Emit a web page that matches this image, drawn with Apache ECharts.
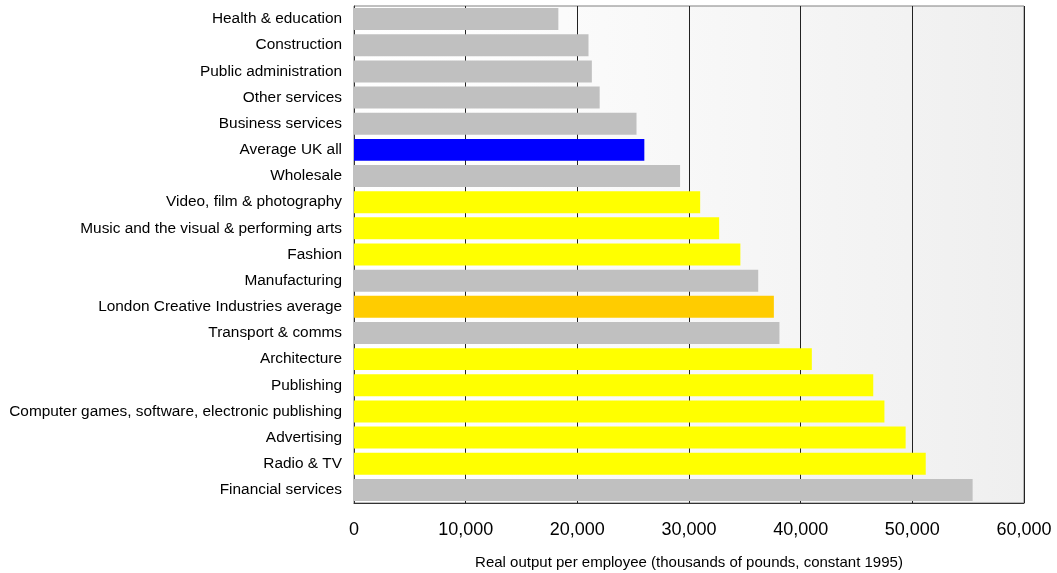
<!DOCTYPE html>
<html>
<head>
<meta charset="utf-8">
<title>Real output per employee by sector</title>
<script src="https://cdn.jsdelivr.net/npm/echarts@6/dist/echarts.min.js"></script>
<style>
  html, body { margin: 0; padding: 0; background: #ffffff; }
  #chart { width: 1057px; height: 573px; }
</style>
</head>
<body>
<div id="chart"></div>
<script>
// Sectors, listed top to bottom
const categories = [
  'Health & education',
  'Construction',
  'Public administration',
  'Other services',
  'Business services',
  'Average UK all',
  'Wholesale',
  'Video, film & photography',
  'Music and the visual & performing arts',
  'Fashion',
  'Manufacturing',
  'London Creative Industries average',
  'Transport & comms',
  'Architecture',
  'Publishing',
  'Computer games, software, electronic publishing',
  'Advertising',
  'Radio & TV',
  'Financial services'
];

// Real output per employee (constant 1995 prices)
const outputPerEmployee = [
  18300, 21000, 21300, 22000, 25300, 26000, 29200, 31000, 32700, 34600,
  36200, 37600, 38100, 41000, 46500, 47500, 49400, 51200, 55400
];

// Group of each sector, used to pick its bar colour
const groups = [
  'sector', 'sector', 'sector', 'sector', 'sector', 'ukAverage', 'sector',
  'creative', 'creative', 'creative', 'sector', 'creativeAverage', 'sector',
  'creative', 'creative', 'creative', 'creative', 'creative', 'sector'
];

const xTicks = [0, 10000, 20000, 30000, 40000, 50000, 60000];

const groupColours = {
  sector: '#C0C0C0',
  creative: '#FFFF00',
  ukAverage: '#0000FF',
  creativeAverage: '#FFCC00'
};

const fontFamily = '"Liberation Sans", Arial, sans-serif';

const chart = echarts.init(document.getElementById('chart'), null, { renderer: 'canvas' });

chart.setOption({
  animation: false,
  backgroundColor: '#ffffff',
  grid: {
    left: 354,
    right: 33,
    top: 6,
    bottom: 70,
    outerBoundsMode: 'none',
    containLabel: false,
    show: true,
    borderColor: '#808080',
    borderWidth: 1,
    backgroundColor: new echarts.graphic.LinearGradient(0, 0, 1, 0, [
      { offset: 0, color: '#ffffff' },
      { offset: 0.2, color: '#fdfdfd' },
      { offset: 1, color: '#efefef' }
    ])
  },
  xAxis: {
    type: 'value',
    min: xTicks[0],
    max: xTicks[xTicks.length - 1],
    interval: xTicks[1] - xTicks[0],
    name: 'Real output per employee (thousands of pounds, constant 1995)',
    nameLocation: 'middle',
    nameGap: 52,
    nameTextStyle: { color: '#000', fontSize: 15, fontFamily: fontFamily },
    axisLine: { show: true, lineStyle: { color: '#333', width: 1 } },
    axisTick: { show: false },
    axisLabel: {
      color: '#000',
      fontSize: 18,
      fontFamily: fontFamily,
      margin: 18,
      formatter: v => v.toLocaleString('en-GB')
    },
    splitLine: { show: true, lineStyle: { color: '#222', width: 1 } }
  },
  yAxis: {
    type: 'category',
    data: categories,
    inverse: true,
    axisLine: { show: true, lineStyle: { color: '#333', width: 1 } },
    axisTick: { show: false },
    axisLabel: {
      color: '#000',
      fontSize: 15.4,
      fontFamily: fontFamily,
      margin: 12
    },
    splitLine: { show: false }
  },
  series: [{
    type: 'bar',
    barCategoryGap: '16%',
    data: outputPerEmployee.map((v, i) => ({
      value: v,
      itemStyle: { color: groupColours[groups[i]] }
    }))
  }]
});
</script>
</body>
</html>
